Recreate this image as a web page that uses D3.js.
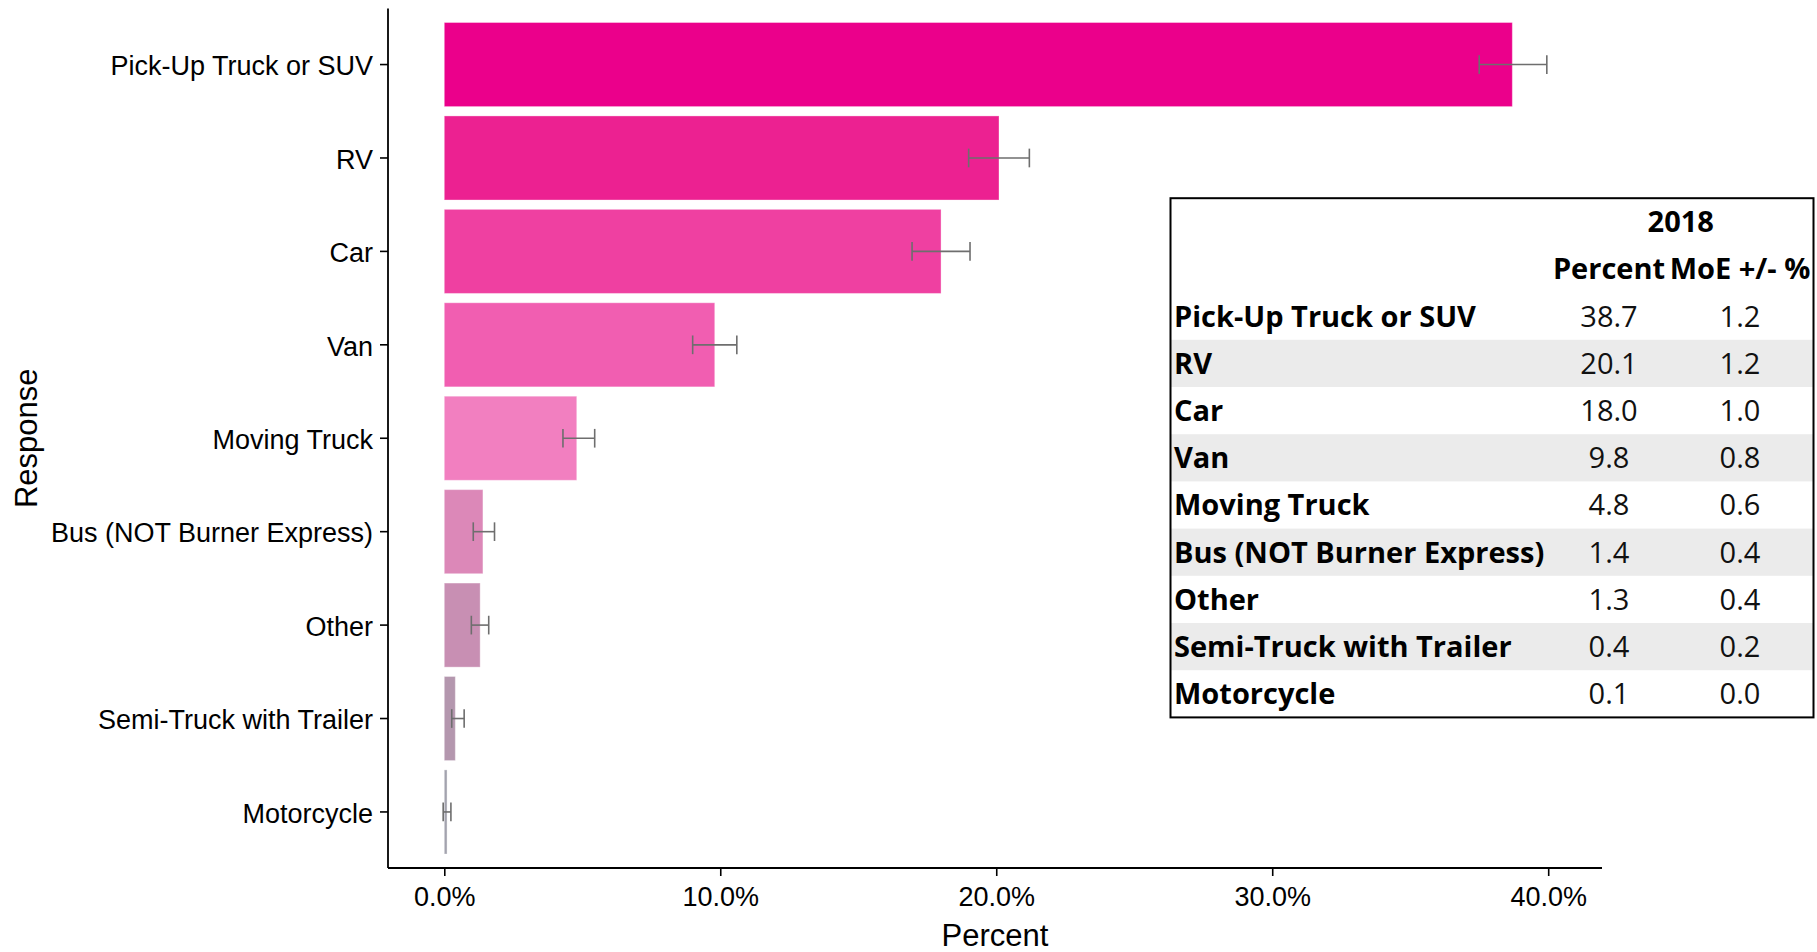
<!DOCTYPE html>
<html>
<head>
<meta charset="utf-8">
<script src="https://cdn.jsdelivr.net/npm/d3@7"></script>
<style>
  html, body { margin: 0; padding: 0; background: #fff; }
  svg { display: block; }
</style>
</head>
<body>
<svg id="chart" width="1817" height="952"></svg>
<script>
// ---- data ----
const categories = ["Pick-Up Truck or SUV", "RV", "Car", "Van", "Moving Truck",
  "Bus (NOT Burner Express)", "Other", "Semi-Truck with Trailer", "Motorcycle"];
const percentValues = [38.7, 20.1, 18.0, 9.8, 4.8, 1.4, 1.3, 0.4, 0.1];
const moeValues = [1.2, 1.2, 1.0, 0.8, 0.6, 0.4, 0.4, 0.2, 0.0];
// error bar extents as drawn in the chart
const errLow = [37.5, 19.0, 16.95, 9.0, 4.3, 1.05, 0.98, 0.27, -0.04];
const errHigh = [39.95, 21.2, 19.05, 10.6, 5.45, 1.82, 1.61, 0.72, 0.24];
const barColors = ["#EB008B", "#EC2191", "#EF40A1", "#F15EB1", "#F27FC0",
  "#DC88B8", "#C88FB3", "#B497AE", "#A3A3AE"];
const xTicks = [0, 10, 20, 30, 40];
const tableYear = "2018";
const tableColumns = ["Percent", "MoE +/- %"];
const xTitle = "Percent";
const yTitle = "Response";

// ---- layout ----
const svg = d3.select("#chart");
const panel = { left: 388, right: 1602, top: 8.5, bottom: 868 };
const fontChart = "'Liberation Sans', Arial, sans-serif";
const fontTable = "'Open Sans', 'Noto Sans', sans-serif";

const lo = Math.min(0, d3.min(errLow));
const hi = d3.max(errHigh);
const pad = 0.05 * (hi - lo);
const x = d3.scaleLinear().domain([lo - pad, hi + pad]).range([panel.left, panel.right]);
const y = d3.scaleBand().domain(categories).range([panel.top, panel.bottom])
  .paddingInner(0.1).paddingOuter(0.15);

const data = categories.map((c, i) => ({
  cat: c, v: percentValues[i], moe: moeValues[i], lo: errLow[i], hi: errHigh[i], col: barColors[i]
}));

// bars
svg.append("g").selectAll("rect").data(data).join("rect")
  .attr("x", x(0))
  .attr("y", d => y(d.cat))
  .attr("width", d => x(d.v) - x(0))
  .attr("height", y.bandwidth())
  .attr("fill", d => d.col)
  .attr("stroke", "rgba(255,255,255,0.35)")
  .attr("stroke-width", 1);

// error bars
const capH = y.step() * 0.2;
const eb = svg.append("g").attr("stroke", "#6E6E6E").attr("stroke-width", 1.6).attr("fill", "none");
data.forEach(d => {
  const cy = y(d.cat) + y.bandwidth() / 2;
  eb.append("line").attr("x1", x(d.lo)).attr("x2", x(d.hi)).attr("y1", cy).attr("y2", cy);
  eb.append("line").attr("x1", x(d.lo)).attr("x2", x(d.lo)).attr("y1", cy - capH / 2).attr("y2", cy + capH / 2);
  eb.append("line").attr("x1", x(d.hi)).attr("x2", x(d.hi)).attr("y1", cy - capH / 2).attr("y2", cy + capH / 2);
});

// axes
const xAxis = d3.axisBottom(x).tickValues(xTicks).tickFormat(d => d.toFixed(1) + "%")
  .tickSizeInner(8).tickSizeOuter(0).tickPadding(6);
const gx = svg.append("g").attr("transform", `translate(0,${panel.bottom})`).call(xAxis);
gx.select(".domain").attr("stroke", "#000").attr("stroke-width", 1.8);
gx.selectAll(".tick line").attr("stroke", "#000").attr("stroke-width", 1.6);
gx.selectAll(".tick text").attr("font-family", fontChart).attr("font-size", 27)
  .attr("fill", "#000").attr("dy", "0.9em");

const yAxis = d3.axisLeft(y).tickSizeInner(8).tickSizeOuter(0).tickPadding(7);
const gy = svg.append("g").attr("transform", `translate(${panel.left},0)`).call(yAxis);
gy.select(".domain").attr("stroke", "#000").attr("stroke-width", 1.8);
gy.selectAll(".tick line").attr("stroke", "#000").attr("stroke-width", 1.6);
gy.selectAll(".tick text").attr("font-family", fontChart).attr("font-size", 27)
  .attr("fill", "#000").attr("dy", "0.4em");
gy.select(".domain").attr("d", `M0,${panel.top}V${panel.bottom}`);
gx.select(".domain").attr("d", `M${panel.left},0H${panel.right}`);

// axis titles
svg.append("text").text(xTitle)
  .attr("x", (panel.left + panel.right) / 2).attr("y", 945.5)
  .attr("text-anchor", "middle").attr("font-family", fontChart).attr("font-size", 31).attr("fill", "#000");
svg.append("text").text(yTitle)
  .attr("transform", `translate(36.5,${(panel.top + panel.bottom) / 2}) rotate(-90)`)
  .attr("text-anchor", "middle").attr("font-family", fontChart).attr("font-size", 31).attr("fill", "#000");

// ---- table ----
const tb = { left: 1170.5, right: 1813.5, top: 198.2 };
const rowH = 47.2;
const colCenters = [1609, 1740];
const labelX = 1174;
const tg = svg.append("g");
const nRows = 2 + categories.length;
tg.append("rect").attr("x", tb.left).attr("y", tb.top).attr("width", tb.right - tb.left)
  .attr("height", rowH * nRows).attr("fill", "#fff");
data.forEach((d, i) => {
  const ry = tb.top + rowH * (2 + i);
  if (i % 2 === 1) {
    tg.append("rect").attr("x", tb.left).attr("y", ry).attr("width", tb.right - tb.left)
      .attr("height", rowH).attr("fill", "#EBEBEB");
  }
  const cy = ry + rowH / 2;
  tg.append("text").text(d.cat).attr("x", labelX).attr("y", cy).attr("dy", "0.36em")
    .attr("font-family", fontTable).attr("font-weight", 700).attr("font-size", 29).attr("fill", "#000");
  tg.append("text").text(d.v.toFixed(1)).attr("x", colCenters[0]).attr("y", cy).attr("dy", "0.36em")
    .attr("text-anchor", "middle").attr("font-family", fontTable).attr("font-size", 29).attr("fill", "#111");
  tg.append("text").text(d.moe.toFixed(1)).attr("x", colCenters[1]).attr("y", cy).attr("dy", "0.36em")
    .attr("text-anchor", "middle").attr("font-family", fontTable).attr("font-size", 29).attr("fill", "#111");
});
tg.append("text").text(tableYear).attr("x", (1548 + tb.right) / 2).attr("y", tb.top + rowH / 2).attr("dy", "0.36em")
  .attr("text-anchor", "middle").attr("font-family", fontTable).attr("font-weight", 700).attr("font-size", 29).attr("fill", "#000");
tableColumns.forEach((c, i) => {
  tg.append("text").text(c).attr("x", colCenters[i]).attr("y", tb.top + rowH * 1.5).attr("dy", "0.36em")
    .attr("text-anchor", "middle").attr("font-family", fontTable).attr("font-weight", 700).attr("font-size", 29).attr("fill", "#000");
});
tg.append("rect").attr("x", tb.left).attr("y", tb.top).attr("width", tb.right - tb.left)
  .attr("height", rowH * nRows).attr("fill", "none").attr("stroke", "#000").attr("stroke-width", 2);
</script>
</body>
</html>
